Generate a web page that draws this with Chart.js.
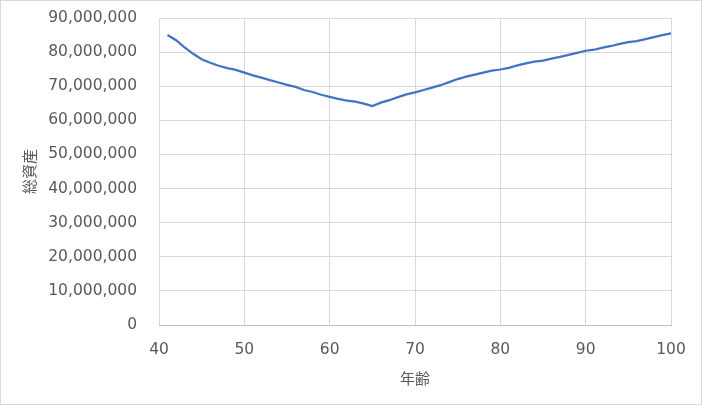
<!DOCTYPE html>
<html lang="ja">
<head>
  <meta charset="UTF-8">
  <title>総資産</title>
  <script src="https://cdn.jsdelivr.net/npm/chart.js"></script>
  <style>
    body {
      margin: 0;
      background: #ffffff;
    }

    .chart-box {
      width: 702px;
      height: 405px;
      box-sizing: border-box;
      border: 1px solid #d9d9d9;
      background: #ffffff;
    }

    canvas {
      display: block;
    }
  </style>
</head>
<body>

  <div class="chart-box">
    <canvas id="assetChart" width="700" height="403"></canvas>
  </div>

  <script>
    const ages = [
      41, 42, 43, 44, 45, 46, 47, 48, 49, 50,
      51, 52, 53, 54, 55, 56, 57, 58, 59, 60,
      61, 62, 63, 64, 65, 66, 67, 68, 69, 70,
      71, 72, 73, 74, 75, 76, 77, 78, 79, 80,
      81, 82, 83, 84, 85, 86, 87, 88, 89, 90,
      91, 92, 93, 94, 95, 96, 97, 98, 99, 100
    ];
    const totalAssets = [
      85000000, 83500000, 81400000, 79500000, 77900000, 76900000, 76000000, 75300000, 74800000, 74000000,
      73200000, 72500000, 71800000, 71100000, 70400000, 69800000, 68900000, 68300000, 67500000, 66900000,
      66300000, 65800000, 65500000, 64900000, 64200000, 65200000, 65900000, 66800000, 67600000, 68200000,
      68900000, 69600000, 70300000, 71200000, 72100000, 72800000, 73400000, 74000000, 74600000, 74900000,
      75400000, 76100000, 76700000, 77200000, 77500000, 78100000, 78600000, 79200000, 79800000, 80400000,
      80700000, 81300000, 81800000, 82400000, 82900000, 83200000, 83800000, 84400000, 85000000, 85500000
    ];
    const xTitle = '年齢';
    const yTitle = '総資産';

    const points = ages.map((a, i) => ({ x: a, y: totalAssets[i] }));
    const textColor = '#595959';
    const baseFont = { family: "'DejaVu Sans', sans-serif", size: 15.5 };

    new Chart(document.getElementById('assetChart'), {
      type: 'line',
      data: {
        datasets: [{
          data: points,
          borderColor: '#4472c4',
          borderWidth: 2.25,
          pointRadius: 0,
          tension: 0,
          fill: false
        }]
      },
      options: {
        responsive: false,
        animation: false,
        layout: {
          padding: { left: 0, top: 17, right: 30, bottom: 0 }
        },
        plugins: {
          legend: { display: false },
          tooltip: { enabled: false }
        },
        scales: {
          x: {
            type: 'linear',
            min: 40,
            max: 100,
            ticks: {
              stepSize: 10,
              color: textColor,
              font: baseFont,
              padding: 16,
              maxRotation: 0
            },
            grid: { color: '#d9d9d9', drawTicks: false },
            border: { color: '#bfbfbf' },
            title: {
              display: true,
              text: xTitle,
              color: textColor,
              font: { family: "'Noto Sans CJK JP', sans-serif", size: 15 },
              padding: { top: 0, bottom: 17 }
            },
            afterFit: (scale) => {
              scale.height = 79;
              scale.paddingLeft = 0;
              scale.paddingRight = 0;
            }
          },
          y: {
            min: 0,
            max: 90000000,
            ticks: {
              stepSize: 10000000,
              color: textColor,
              font: baseFont,
              padding: 22,
              callback: (v) => v.toLocaleString('en-US')
            },
            grid: { color: '#d9d9d9', drawTicks: false },
            border: { display: false },
            title: {
              display: true,
              text: yTitle,
              color: textColor,
              font: { family: "'Noto Sans CJK JP', sans-serif", size: 15 },
              padding: { top: 19, bottom: 0 }
            },
            afterFit: (scale) => {
              scale.width = 158;
              scale.paddingTop = 0;
              scale.paddingBottom = 0;
            }
          }
        }
      }
    });
  </script>

</body>
</html>
